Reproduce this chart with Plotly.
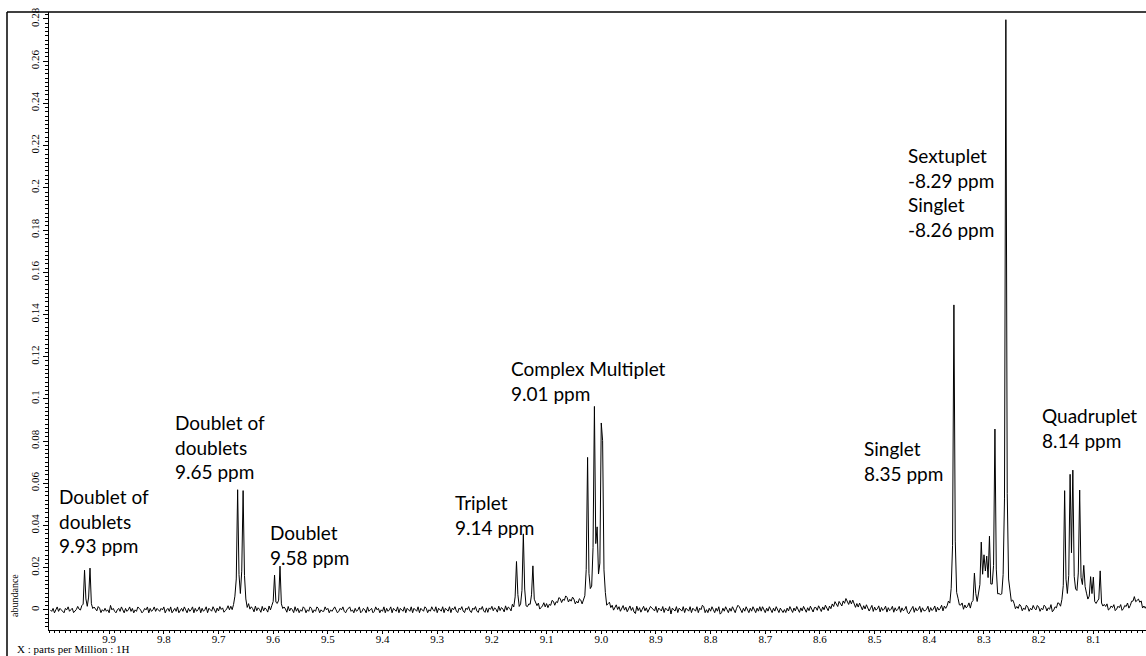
import numpy as np
import plotly.graph_objects as go

# ---------------- data ----------------
# chemical-shift sampling of the spectrum (ppm)
PPM_START = 10.0075
PPM_STEP = 0.0025
N_POINTS = 804

# peak table: centre (ppm), height (abundance), half width (ppm)
PEAK_PPM = [9.945, 9.935, 9.665, 9.655, 9.5975, 9.5875,
            9.155, 9.1425, 9.125, 9.065,
            9.025, 9.0125, 9.0075, 9.0, 8.9975,
            8.55, 8.355,
            8.3175, 8.305, 8.3, 8.295, 8.29, 8.298, 8.28, 8.26,
            8.1525, 8.1425, 8.1375, 8.125, 8.1175, 8.105, 8.1, 8.0875, 8.12, 8.022]
PEAK_HEIGHT = [0.0185, 0.0195, 0.055, 0.056, 0.0175, 0.019,
               0.022, 0.035, 0.021, 0.005,
               0.068, 0.091, 0.028, 0.07, 0.063,
               0.004, 0.144,
               0.0145, 0.025, 0.014, 0.012, 0.026, 0.01, 0.083, 0.277,
               0.052, 0.058, 0.058, 0.049, 0.014, 0.01, 0.01, 0.015, 0.006, 0.005]
PEAK_HWHM = [0.0013, 0.0013, 0.0015, 0.0015, 0.0013, 0.0013,
             0.0013, 0.0013, 0.0013, 0.03,
             0.0013, 0.0015, 0.0012, 0.0013, 0.0013,
             0.02, 0.0013,
             0.0012, 0.0012, 0.0012, 0.0012, 0.0012, 0.01, 0.0012, 0.0012,
             0.0012, 0.0012, 0.0012, 0.0012, 0.0012, 0.0012, 0.0012, 0.0012, 0.02, 0.01]

# baseline noise read as digits (4 = zero level), unit in abundance
NOISE_UNIT = 0.0007
NOISE_DIGITS = (
    "4352463543254634523464352453642354365243"
    "5342745324536425346352436542354625346354"
    "3546245362453624536425346253462534625436"
    "4253645234635246354263542635426354263542"
    "6354235462354263542635243652436524365243"
    "3645243564235463245634253462354263452364"
    "5243625346254362543625436254362543652436"
    "4362543625436254632546325463254632546325"
    "2546354263542635426354623546235462354623"
    "4635243652436524365243652436524365243652"
    "3527435146352463524635246352163524635246"
    "5436254362543615436254362543625436254762"
    "4253642536125364253642576425364253642536"
    "3642536425364253242536425364253642536425"
    "5364253642536475364253642536425364253642"
    "4625346253462534625346253462134625346253"
    "3462534625346253462534625346253462534625"
    "5243652436524365243672436524365243652436"
    "4365243652436124365243652436524365243652"
    "3546235462354623546235462354623546235462"
    "4352463543254634523464352453642354365243"
)

X_TICKS = [9.9, 9.8, 9.7, 9.6, 9.5, 9.4, 9.3, 9.2, 9.1, 9.0, 8.9, 8.8, 8.7, 8.6, 8.5, 8.4, 8.3, 8.2, 8.1]
Y_TICKS = [0, 0.02, 0.04, 0.06, 0.08, 0.1, 0.12, 0.14, 0.16, 0.18, 0.2, 0.22, 0.24, 0.26, 0.28]
Y_TICK_TEXT = ["0", "0.02", "0.04", "0.06", "0.08", "0.1", "0.12", "0.14", "0.16", "0.18",
               "0.2", "0.22", "0.24", "0.26", "0.28"]

LABEL_TEXT = ["Doublet of<br>doublets<br>9.93 ppm",
              "Doublet of<br>doublets<br>9.65 ppm",
              "Doublet<br>9.58 ppm",
              "Triplet<br>9.14 ppm",
              "Complex Multiplet<br>9.01 ppm",
              "Singlet<br>8.35 ppm",
              "Sextuplet<br>-8.29 ppm<br>Singlet<br>-8.26 ppm",
              "Quadruplet<br>8.14 ppm"]
# label anchors (top-left) in axis units
LABEL_X = [9.9960, 9.7830, 9.6089, 9.2711, 9.1680, 8.5224, 8.4420, 8.1973]
LABEL_Y = [0.0600, 0.0950, 0.0430, 0.0575, 0.1210, 0.0830, 0.2215, 0.0985]

# ---------------- spectrum ----------------
ppm = np.round(PPM_START - PPM_STEP * np.arange(N_POINTS), 4)
noise = (np.array([int(c) for c in NOISE_DIGITS[:N_POINTS]]) - 4) * NOISE_UNIT
signal = np.zeros(N_POINTS)
for c, h, w in zip(PEAK_PPM, PEAK_HEIGHT, PEAK_HWHM):
    signal += h / (1.0 + ((ppm - c) / w) ** 2)
abundance = signal + noise

fig = go.Figure()
fig.add_trace(go.Scatter(x=ppm, y=abundance, mode="lines",
                         line=dict(color="black", width=1), hoverinfo="skip",
                         showlegend=False))

for t, lx, ly in zip(LABEL_TEXT, LABEL_X, LABEL_Y):
    fig.add_annotation(x=lx, y=ly, xref="x", yref="y", text=t, showarrow=False,
                       xanchor="left", yanchor="top", align="left",
                       font=dict(family="Lato", size=19, color="black"))

W, H = 1146, 656
ML, MR, MT, MB = 49, 0, 12, 26
pw, ph = W - ML - MR, H - MT - MB

def px_x(p):
    return (p - ML) / pw

def px_y(p):
    return (H - MB - p) / ph

# outer frame (left and top)
fig.add_shape(type="line", xref="paper", yref="paper",
              x0=px_x(7), x1=1, y0=1, y1=1, line=dict(color="black", width=1.5))
fig.add_shape(type="line", xref="paper", yref="paper",
              x0=px_x(7), x1=px_x(7), y0=1, y1=px_y(H), line=dict(color="black", width=1.5))

fig.add_annotation(xref="paper", yref="paper", x=px_x(15), y=px_y(649),
                   text="X : parts per Million : 1H", showarrow=False,
                   xanchor="left", yanchor="middle",
                   font=dict(family="Liberation Serif", size=11, color="black"))
fig.add_annotation(xref="paper", yref="paper", x=px_x(14), y=px_y(596),
                   text="abundance", showarrow=False, textangle=-90,
                   xanchor="center", yanchor="middle",
                   font=dict(family="Liberation Serif", size=10, color="black"))

fig.update_layout(
    width=W, height=H,
    margin=dict(l=ML, r=MR, t=MT, b=MB, pad=0),
    paper_bgcolor="white", plot_bgcolor="white",
    xaxis=dict(range=[10.010, 8.0037], tickvals=X_TICKS, tickformat=".1f",
               showgrid=False, zeroline=False, showline=True, linecolor="black", linewidth=1,
               ticks="outside", ticklen=3, tickcolor="black", tickwidth=1,
               ticklabelstandoff=-4,
               tickfont=dict(family="Liberation Serif", size=11, color="black"),
               minor=dict(dtick=0.01, tick0=8.0, ticks="outside", ticklen=2,
                          tickcolor="black", showgrid=False)),
    yaxis=dict(range=[-0.0095, 0.2833], tickvals=Y_TICKS, ticktext=Y_TICK_TEXT,
               tickangle=-90,
               showgrid=False, zeroline=False, showline=True, linecolor="black", linewidth=1,
               ticks="outside", ticklen=5, tickcolor="black", tickwidth=1,
               tickfont=dict(family="Liberation Serif", size=11, color="black"),
               minor=dict(dtick=0.002, tick0=0, ticks="outside", ticklen=3,
                          tickcolor="black", showgrid=False)),
)

fig.write_html("out.html")
